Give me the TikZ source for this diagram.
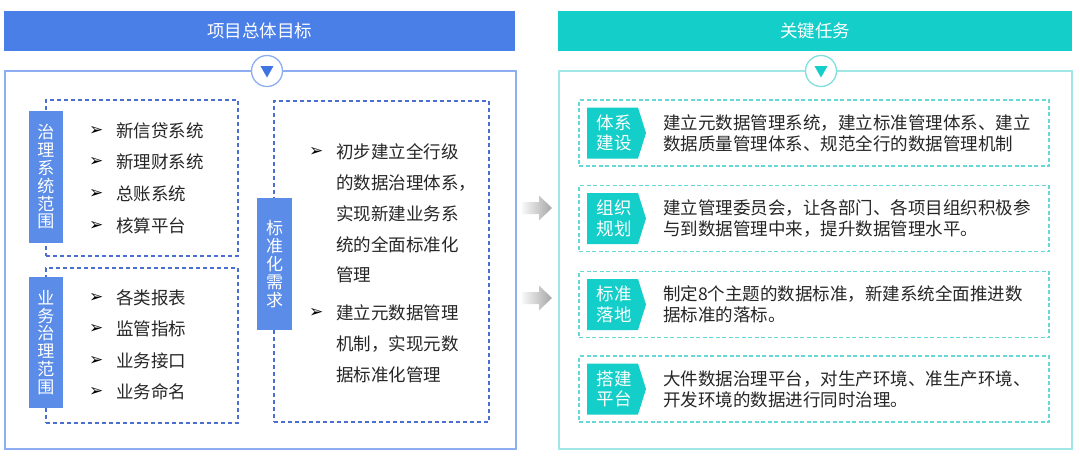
\documentclass[tikz,border=0pt]{standalone}
\usepackage{fontspec}
\setmainfont{Noto Sans CJK SC}
\newfontfamily\symf{DejaVu Sans}
\usetikzlibrary{calc}
\definecolor{blueH}{HTML}{4A7FE8}
\definecolor{blueLab}{HTML}{5B8CE8}
\definecolor{blueBorder}{HTML}{8EAEF2}
\definecolor{blueDash}{HTML}{4B6FD1}
\definecolor{blueTri}{HTML}{3F74E2}
\definecolor{tealH}{HTML}{14CEC9}
\definecolor{tealBorder}{HTML}{A0E7E5}
\definecolor{tealDash}{HTML}{66D9D6}
\definecolor{tealCirc}{HTML}{80E0DD}
\definecolor{txt}{HTML}{262626}
\begin{document}
\begin{tikzpicture}[x=1pt,y=-1pt,
  every node/.style={inner sep=0pt, outer sep=0pt},
  hdr/.style={minimum height=40pt, text=white, font=\fontsize{17.5}{20}\selectfont},
  panelbox/.style={line width=1.3pt},
  circbox/.style={circle, line width=1.3pt, fill=white, minimum size=31pt},
  dboxL/.style={draw=blueDash, dash pattern=on 4pt off 3pt, line width=1.1pt, anchor=north west},
  dboxR/.style={draw=tealDash, dash pattern=on 4pt off 2.5pt, line width=1.1pt},
  labL/.style={fill=blueLab, text=white, align=center, minimum width=34pt, font=\fontsize{17}{17.8}\selectfont},
  labR/.style={text=white, align=center, font=\fontsize{17.5}{20.5}\selectfont},
  item/.style={anchor=west, text=txt, align=left, font=\fontsize{17.5}{21}\selectfont},
  bul/.style={anchor=west, text=black, font=\symf\fontsize{17}{17}\selectfont},
  grayarrow/.style={left color=gray!6, right color=gray!70}
]
\fill[white] (0,0) rectangle (1080,456);
\useasboundingbox (0,0) rectangle (1080,456);

% ---------- left column ----------
\node[hdr, fill=blueH, minimum width=511pt] (hL) at (259.5,31) {项目总体目标};
\node[panelbox, draw=blueBorder, minimum width=511pt, minimum height=378pt] (pL) at (260.5,260) {};
\node[circbox, draw=blueBorder] (cL) at (267,71) {};
\fill[blueTri] ($(cL)+(-6.5,-5)$) -- ($(cL)+(6.5,-5)$) -- ($(cL)+(0,6.5)$) -- cycle;

% box 1
\node[dboxL, minimum width=192pt, minimum height=156pt] (b1) at (46,100) {};
\node[labL, minimum height=132pt] (l1) at (46,177) {治\\理\\系\\统\\范\\围};
\foreach \t/\yy [count=\i] in {新信贷系统/131, 新理财系统/162, 总账系统/194, 核算平台/226} {
  \node[bul] (ba\i) at (89,\yy) {➢};
  \node[item] (ia\i) at (116,\yy) {\t};
}
% box 2
\node[dboxL, minimum width=192pt, minimum height=155pt] (b2) at (46,268) {};
\node[labL, minimum height=131pt] (l2) at (46,342.5) {业\\务\\治\\理\\范\\围};
\foreach \t/\yy [count=\i] in {各类报表/298, 监管指标/329, 业务接口/361, 业务命名/392} {
  \node[bul] (bb\i) at (89,\yy) {➢};
  \node[item] (ib\i) at (116,\yy) {\t};
}
% box 3
\node[dboxL, minimum width=215pt, minimum height=321pt] (b3) at (274,101) {};
\node[labL, minimum width=35pt, minimum height=132pt, font=\fontsize{17}{18}\selectfont] (l3) at (274.5,264) {标\\准\\化\\需\\求};
\node[bul] (bc1) at (309,152) {➢};
\node[item, font=\fontsize{17.5}{30.8}\selectfont] (ic1) at (336,213.5) {初步建立全行级\\的数据治理体系，\\实现新建业务系\\统的全面标准化\\管理};
\node[bul] (bc2) at (309,313) {➢};
\node[item, font=\fontsize{17.5}{31}\selectfont] (ic2) at (336,344) {建立元数据管理\\机制，实现元数\\据标准化管理};

% ---------- arrows between columns ----------
\shade[grayarrow] (522,202) -- (539,202) -- (539,195.5) -- (552,208) -- (539,220.5) -- (539,214) -- (522,214) -- cycle;
\shade[grayarrow] (522,292) -- (539,292) -- (539,285.5) -- (552,298) -- (539,310.5) -- (539,304) -- (522,304) -- cycle;

% ---------- right column ----------
\node[hdr, fill=tealH, minimum width=514pt] (hR) at (815,31) {关键任务};
\node[panelbox, draw=tealBorder, minimum width=513pt, minimum height=378pt] (pR) at (815.5,260) {};
\node[circbox, draw=tealCirc] (cR) at (821,71) {};
\fill[tealH] ($(cR)+(-6.5,-5)$) -- ($(cR)+(6.5,-5)$) -- ($(cR)+(0,6.5)$) -- cycle;

\foreach \c/\lab/\body [count=\i] in {
  133/{体系\\建设}/{建立元数据管理系统，建立标准管理体系、建立\\数据质量管理体系、规范全行的数据管理机制},
  218.5/{组织\\规划}/{建立管理委员会，让各部门、各项目组织积极参\\与到数据管理中来，提升数据管理水平。},
  304.5/{标准\\落地}/{制定8个主题的数据标准，新建系统全面推进数\\据标准的落标。},
  389/{搭建\\平台}/{大件数据治理平台，对生产环境、准生产环境、\\开发环境的数据进行同时治理。}} {
  \node[dboxR, minimum width=470pt, minimum height=66pt] (r\i) at (814,\c) {};
  \fill[tealH] (587,\c-25.5) -- (638,\c-25.5) -- (646,\c) -- (638,\c+25.5) -- (587,\c+25.5) -- cycle;
  \node[labR] (rl\i) at (614,\c) {\lab};
  \node[item] (rt\i) at (663,\c) {\body};
}
\end{tikzpicture}
\end{document}
